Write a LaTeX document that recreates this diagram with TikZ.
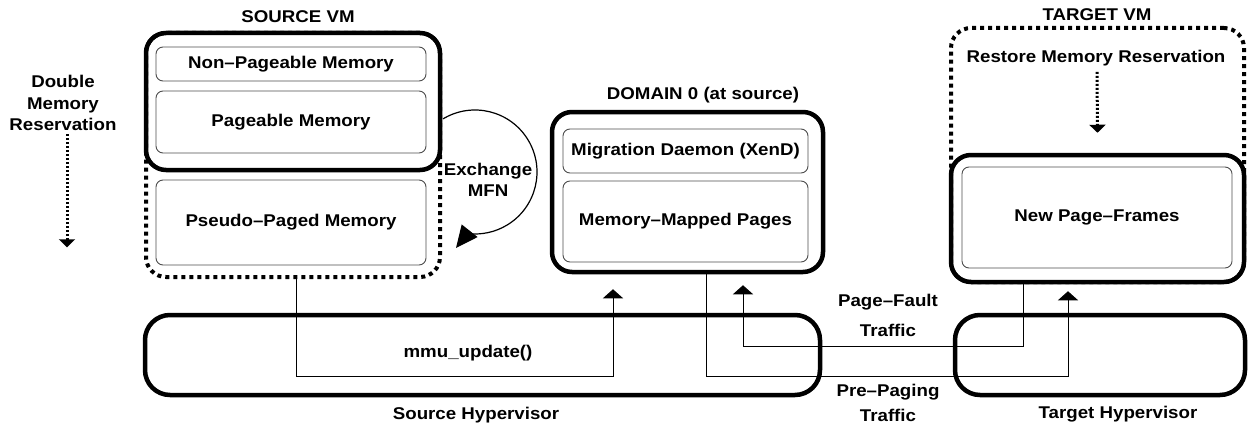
\documentclass[tikz,border=0pt]{standalone}
\usepackage{fontspec}
\setmainfont{Liberation Sans}[FakeStretch=1.1]
\usetikzlibrary{arrows.meta}

\begin{document}
\begin{tikzpicture}[x=1pt,y=1pt,font=\bfseries\fontsize{17}{21.5}\selectfont,
  vmbox/.style={draw,line width=4.5pt,rounded corners=20pt,inner sep=0pt},
  resbox/.style={draw,line width=4pt,dash pattern=on 4pt off 4pt,rounded corners=20pt,inner sep=0pt},
  hypbox/.style={draw,line width=4.5pt,rounded corners=25pt,inner sep=0pt},
  membox/.style={draw=black!70,line width=0.9pt,rounded corners=7pt,inner sep=0pt},
  flow/.style={line width=1pt,-{Triangle[width=20pt,length=9pt]}},
  resflow/.style={line width=3pt,dash pattern=on 2pt off 2pt,-{Triangle[width=16pt,length=8pt]}}]
\useasboundingbox (0,0) rectangle (1248,-428);
% source VM
\node[resbox,minimum width=294pt,minimum height=244pt] (srcres) at (293,-155) {};
\node[vmbox,minimum width=294pt,minimum height=137pt] (srcvm) at (293,-101.5) {};
\node[membox,minimum width=270pt,minimum height=34pt] (nonpage) at (291,-64) {Non--Pageable Memory};
\node[membox,minimum width=270pt,minimum height=62pt] (pageable) at (291,-122) {Pageable Memory};
\node[membox,minimum width=270pt,minimum height=85pt] (pseudo) at (291,-222.5) {Pseudo--Paged Memory};
\node (srctitle) at (298,-17) {SOURCE VM};
\node[align=center] (dblres) at (63,-103) {Double\\Memory\\Reservation};
\draw[resflow] ([xshift=4pt]dblres.south) -- ++(0,-113);
% exchange of MFNs
\coordinate (xchgc) at (475,-172);
\node[align=center] (xchg) at (488,-180) {Exchange\\MFN};
\draw[line width=1.2pt,-{Triangle[width=20pt,length=22pt]}] ([shift={(121:62)}]xchgc)
  arc[start angle=121,end angle=-97,radius=62] -- (456,-248);
% domain 0
\node[vmbox,minimum width=271pt,minimum height=160pt] (dom0) at (687.5,-192) {};
\node[membox,minimum width=245pt,minimum height=44pt] (daemon) at (685.5,-151) {Migration Daemon (XenD)};
\node[membox,minimum width=245pt,minimum height=81pt] (mapped) at (685.5,-221.5) {Memory--Mapped Pages};
\node (domtitle) at (703,-95) {DOMAIN 0 (at source)};
% target VM
\node[resbox,minimum width=293pt,minimum height=254pt] (tgtres) at (1097.5,-155) {};
\node[vmbox,minimum width=293pt,minimum height=127pt] (tgtvm) at (1097.5,-218.5) {};
\node[membox,minimum width=270pt,minimum height=101pt] (newpf) at (1097,-217.5) {New Page--Frames};
\node (tgttitle) at (1097,-15) {TARGET VM};
\node (restore) at (1096,-58) {Restore Memory Reservation};
\draw[resflow] ([xshift=1pt,yshift=-2.5pt]restore.south) -- ([yshift=20pt]tgtvm.north);
% hypervisors
\node[hypbox,minimum width=675pt,minimum height=80pt] (srchyp) at (482.5,-355) {};
\node[hypbox,minimum width=290pt,minimum height=80pt] (tgthyp) at (1100,-355) {};
\node (srchyplbl) at (476,-415) {Source Hypervisor};
\node (tgthyplbl) at (1118,-414) {Target Hypervisor};
% traffic
\node (mmu) at (468,-353) {mmu\_update()};
\node[align=center] (pflbl) at (888,-315) {Page--Fault\\[8.5pt]Traffic};
\node[align=center] (pplbl) at (888,-403) {Pre--Paging\\[3.5pt]Traffic};
\draw[flow] ([xshift=3pt]srcres.south) -- ++(0,-97) -| ([xshift=-74.5pt,yshift=-15pt]dom0.south);
\draw[flow] ([xshift=18.5pt]dom0.south) -- ++(0,-102) -| ([xshift=-29.5pt,yshift=-7pt]tgtvm.south);
\draw[flow] ([xshift=-74.5pt]tgtvm.south) -- ++(0,-62) -| ([xshift=55.5pt,yshift=-11pt]dom0.south);
\end{tikzpicture}
\end{document}
